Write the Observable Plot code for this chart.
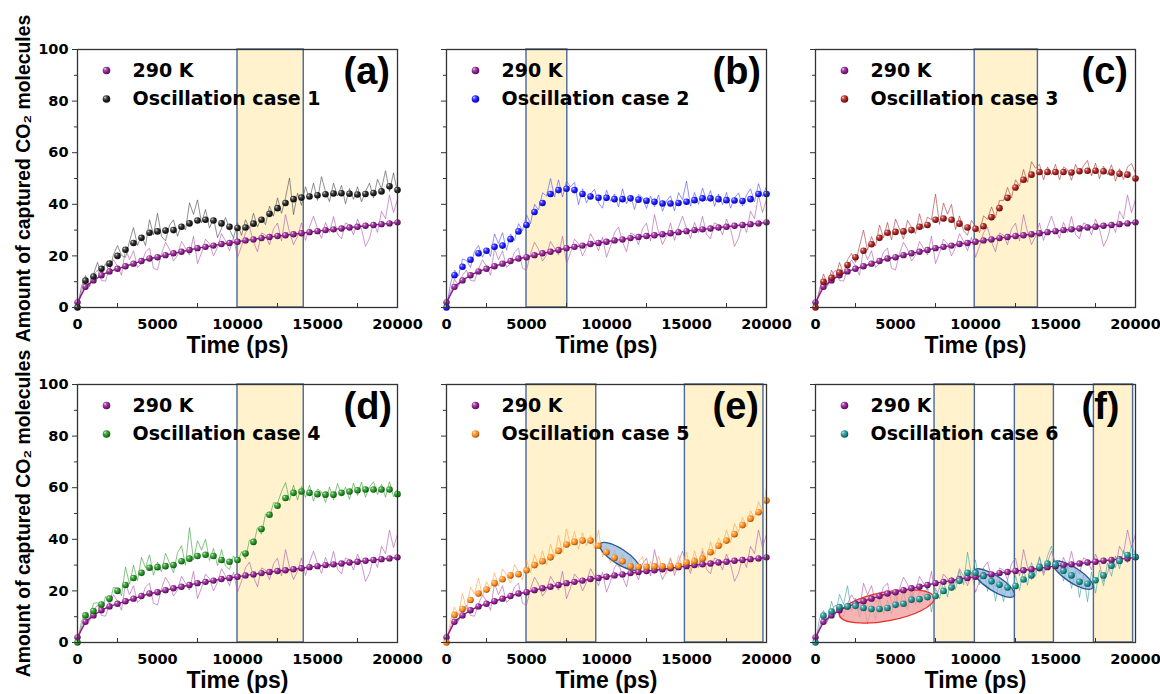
<!DOCTYPE html>
<html><head><meta charset="utf-8">
<script src="https://cdn.jsdelivr.net/npm/d3@7"></script>
<script src="https://cdn.jsdelivr.net/npm/@observablehq/plot@0.6"></script>
<style>
html,body{margin:0;padding:0;background:#fff;}
#wrap{position:relative;width:1160px;height:694px;overflow:hidden;background:#fff;}
#wrap svg{position:absolute;}
</style>
</head><body><div id="wrap"></div>
<script>
// ---------------- data ----------------
const times = [0,500,1000,1500,2000,2500,3000,3500,4000,4500,5000,5500,6000,6500,7000,7500,8000,8500,9000,9500,10000,10500,11000,11500,12000,12500,13000,13500,14000,14500,15000,15500,16000,16500,17000,17500,18000,18500,19000,19500,20000];
const rawTimes = [0,250,500,750,1000,1250,1500,1750,2000,2250,2500,2750,3000,3250,3500,3750,4000,4250,4500,4750,5000,5250,5500,5750,6000,6250,6500,6750,7000,7250,7500,7750,8000,8250,8500,8750,9000,9250,9500,9750,10000,10250,10500,10750,11000,11250,11500,11750,12000,12250,12500,12750,13000,13250,13500,13750,14000,14250,14500,14750,15000,15250,15500,15750,16000,16250,16500,16750,17000,17250,17500,17750,18000,18250,18500,18750,19000,19250,19500,19750,20000];

const smooth290 = [2,8,10.5,12.5,14,15,16,17,18,19,19.5,20.3,21,21.6,22.3,23,23.5,24,24.6,25,25.5,26,26.4,26.9,27.3,27.7,28,28.4,28.8,29.2,29.6,30,30.3,30.6,31,31.3,31.7,32,32.3,32.6,33];
const smoothCase1 = [0,10.4,12,15,17,20,22.4,25,27,29,29.5,29.8,30,31.3,32.6,33.7,34,33.7,32.6,31.3,30.8,31,32.5,34,36.3,38.5,40.5,42,42.6,43,43.5,43.9,44.2,44.3,44.1,43.8,44,44.4,45,47,45.5];
const smoothCase2 = [0,12.5,15.8,18.5,21,22,23.5,24,26.5,29.5,32,37,40.5,44,45.5,46,45.5,44,43,42.5,42.5,42,42,42.3,41.8,41.4,41,40.3,40.3,40.5,41,41.6,42.3,42.3,42,41.6,41.5,41.3,42,44,44];
const smoothCase3 = [0,10,11.5,13.5,16.5,19.5,22,24.5,27,29,29.3,29.5,30,31.3,32,34,34.5,34,32.5,31,30.5,31.5,35,38.5,42.5,46.5,49.5,51.5,52.5,52.5,52.5,52.5,52.3,52.8,53,53,52.8,52.3,51.8,51.5,50];
const smoothCase4 = [0,10.5,12.2,14.7,17,20,22.3,25,27,29,29.2,29.6,30,31.5,32.5,33.5,34,33.5,32,31.3,32,34.5,39,44,49.5,53,56,58,58.5,58,57.5,57.3,57.3,58,58.5,59,59.3,59.3,59.3,59.3,57.5];
const smoothCase5 = [0,10.7,13,16.5,19,20.5,23,24.5,26,26.5,28,30,31.5,33,35.5,38,39,39.5,39.5,37.5,35,32.8,31.5,29.5,29.3,29.3,29.5,29.5,29.5,29.7,31,31.5,32.5,35,37.5,39.5,42,45.5,48,50.5,55];
const smoothCase6 = [0,10.4,12,13.7,14,14.2,13.4,13,13,13.4,14.6,15,16.6,16.8,17.6,18,20,21.3,23.9,27,27,25.8,23.7,22.4,21.3,21.9,24.4,26,29.3,30.6,30.2,27.8,26,23.5,22.8,24.1,26,29.7,31.6,33.9,33.2];

const raw290 = [0,6,11,8.2,12.5,14.5,10.5,10.2,15,18.5, 16,12.5,23,18.5,22,15.5,17,21.5,23,15.2, 14.5,20.9,25.3,22.6,18,20.3,25.6,23,20.3,27.6, 17,21.2,26.5,24.7,20,23.3,28.6,25.8,22,27.2, 19.5,23.7,29,31.2,25.4,21.6,28.9,28.1,24.3,30.5, 32.7,25.8,36,29.2,24.4,27.6,32.8,26,31.2,35.4, 30.6,26.8,33,29.1,35.3,28.4,26.6,32.8,32,28.1, 34.3,30.5,23.7,26.8,33,29.1,37.3,34.4,43.6,36.8, 42];
const rawCase1 = [0,8.2,12.4,8.2,13,17.5,13,17,14,20.5, 24,20.2,19.4,25.7,31,24,28,24,34,28.2, 36.5,27.6,25.8,31.9,34,27.6,32.3,30,40.6,36.1, 41.7,32.8,38,30.8,34.7,27.1,30.6,34.9,30.3,27, 32.8,27.9,34,30.7,36.5,31.2,35,32.1,39.3,35.4, 42.5,36.5,42.5,50.2,36,44.3,39.6,46.8,42,48.2, 41.5,50.7,44.9,41,48.2,43.2,47.3,40.2,46.1,41.9, 46.8,40.9,45,48.2,42.4,49.7,46,53,45,52.2, 44.5];
const rawCase2 = [0,9.2,14.5,12.2,18.8,18.2,15.5,21.8,24,19.5, 23,19.8,28.5,24.8,29,22.2,28.5,26,32.5,29.8, 36,32.5,40,37.8,44.5,43.2,50,42.8,49.5,42.8, 49,46.8,48.5,39.8,46,40.5,44,45.8,40.5,38.5, 45.5,41.2,44,39,46,40.2,43.3,38,43.8,42.6, 38.4,43.2,39,43.6,37.3,41.3,43.3,37.4,44.5,41.8, 49,39.3,44.6,40,46.3,41.3,45.3,39.2,44,39.8, 44.6,38.5,42.5,44.4,39.3,43.6,46,41,48,43, 47];
const rawCase3 = [0,7,13,8.8,14.5,11.5,17.5,13,18.5,21, 17.5,23.8,30,22.2,27.5,23.8,32,27,33,26.2, 34.3,30.4,26.5,33.8,31,28.6,36.3,30.6,35,34, 44,32.2,40.5,36.2,40,30.2,35.5,29.8,28,33.8, 31.5,29,35.5,34.2,39,34.8,41.5,41.5,46.5,42.5, 49.5,47,53.5,48.5,56.5,54,55.5,49.5,54.5,51.5, 55.5,49.5,54.5,53.4,49.3,55.5,51.8,54.9,57,51, 56,49.9,54.8,51.5,55.3,49,53.8,49.6,54.5,55.8, 52];
const rawCase4 = [0,8.2,11.5,9.4,15.2,15.4,11.7,17.8,15,21.5, 21,18.2,29.3,22.6,30,24,33,29,34,26.1, 31.2,27.4,34.6,30.8,27,34.8,37.5,30,44.5,32, 39.5,35.8,40,31.8,36.5,29.8,36,29.6,28.3,33.6, 31,35.2,32.5,39.8,38,44.5,42,49.8,48.5,54.2, 54,58.5,62,55,61,55.2,60.5,56.2,61,54.8, 59.5,58.4,54.3,60.3,55.3,61.6,57,60.2,55.5,61.8, 57,62.2,56.3,60.3,62.3,57.3,61.3,56.3,62.3,56.4, 59.5];
const rawCase5 = [0,8.4,13.7,10.8,19,12.8,21.5,18.8,25,17.8, 23.5,20.8,27,21.8,28.5,26.2,23,30.2,27.5,24.2, 32,27,34,29.8,35.5,30.2,38,33.2,41.5,34.8, 44,37.5,43,36.2,42.5,37.5,41.5,36.5,43.5,33.2, 37,30.9,35.8,29.2,34.5,28.5,33.5,26.4,31.3,33.3, 26.3,31.4,27.5,33.5,28.5,26.5,32.5,27.6,33.7,29.4, 35,28.2,35.5,30,36.5,31.8,39,34.2,40.5,37.5, 43.5,38.8,46,42.8,48.5,44.8,51,48.2,54.5,50.8, 60];
const rawCase6 = [0,9.2,12.4,8.2,16,10.8,18.7,14.8,22,12.1, 17.2,9.8,15.4,7.2,14,9,17,11.2,16.4,11, 18.6,13.8,20,12.8,20.6,14.7,19.8,18.2,21.6,11.8, 21,17,24,17.6,25.3,20.6,27.9,22.4,35,26, 32,22.4,28.8,19.8,25.7,16,24.4,15.8,24.3,17.6, 25.9,20.2,28.4,22.2,31,25.6,33.3,27,33.6,37.4, 29.2,32,23.8,29.9,21,27.8,17.5,26.2,15.8,27.4, 19.1,28,22,30.8,25.7,33.6,28.6,35.8,30.9,37.6, 34.2];

const refName = "290 K";
const caseNames = ["Oscillation case 1","Oscillation case 2","Oscillation case 3","Oscillation case 4","Oscillation case 5","Oscillation case 6"];
const panelLabels = ["(a)","(b)","(c)","(d)","(e)","(f)"];
const xTitle = "Time (ps)";
const yTitle = "Amount of captured CO\u2082 molecules";
const xTicks = [0,5000,10000,15000,20000];
const xMinorTicks = [2500,7500,12500,17500];
const yTicks = [0,20,40,60,80,100];
const yMinorTicks = [10,30,50,70,90];

// shaded (oscillation) windows per panel: [start, end] in ps
const shadesA = [[10000,14140]];
const shadesB = [[5000,7550]];
const shadesC = [[9950,13900]];
const shadesD = [[10000,14140]];
const shadesE = [[5000,9360],[14900,19810]];
const shadesF = [[7440,9960],[12460,14900],[17400,19850]];

// highlighted ellipses: major-axis end points in data units
const ellipsesE = [{x1:9630,y1:38,x2:12040,y2:28.4,kind:"blue"}];
const ellipsesF = [{x1:1520,y1:10.4,x2:7440,y2:17.2,kind:"red"},{x1:9960,y1:27.8,x2:12440,y2:17.9,kind:"blue"},{x1:14900,y1:30.9,x2:17350,y2:21,kind:"blue"}];

// ---------------- styles ----------------
const refColor = "#8e1a8e";
const caseColors = ["#1c1c1c","#1414ff","#a81818","#1d8f1d","#ff8a1a","#16908e"];
const rawRefColor = "#b05cb0";
const rawCaseColors = ["#5a5a5a","#5c5cff","#b04848","#4aa64a","#ffa850","#4aa8a6"];
const ellipseStyle = {
  blue: {fill:"#8fb5de", fillOpacity:0.7, stroke:"#2d5590", ry:7.5},
  red: {fill:"#f29a9a", fillOpacity:0.75, stroke:"#e83028", ry:14.5}
};
const FONT_A = '"Liberation Sans", Arial, sans-serif';
const FONT_D = '"DejaVu Sans", sans-serif';

// sphere gradients
const ns = "http://www.w3.org/2000/svg";
const wrap = document.getElementById("wrap");
const defsSvg = document.createElementNS(ns, "svg");
defsSvg.setAttribute("width", 0); defsSvg.setAttribute("height", 0);
defsSvg.style.position = "absolute";
const defs = document.createElementNS(ns, "defs");
defsSvg.appendChild(defs);
wrap.appendChild(defsSvg);
function gradientFor(id, base) {
  const g = document.createElementNS(ns, "radialGradient");
  g.setAttribute("id", id);
  g.setAttribute("cx", "0.4"); g.setAttribute("cy", "0.4"); g.setAttribute("r", "0.62");
  g.setAttribute("fx", "0.3"); g.setAttribute("fy", "0.28");
  const stops = [
    [0, d3.interpolateRgb(base, "#ffffff")(0.9)],
    [0.3, d3.interpolateRgb(base, "#ffffff")(0.25)],
    [0.65, base],
    [1, d3.interpolateRgb(base, "#000000")(0.45)]
  ];
  for (const [o, c] of stops) {
    const s = document.createElementNS(ns, "stop");
    s.setAttribute("offset", o); s.setAttribute("stop-color", c);
    g.appendChild(s);
  }
  defs.appendChild(g);
  return `url(#${id})`;
}
const refFill = gradientFor("ball-ref", refColor);
const caseFills = caseColors.map((c, i) => gradientFor("ball-case" + i, c));

// tables built from arrays
const toRows = (ts, vs) => ts.map((t, i) => ({t, v: vs[i]}));
const smoothCases = [smoothCase1, smoothCase2, smoothCase3, smoothCase4, smoothCase5, smoothCase6];
const rawCases = [rawCase1, rawCase2, rawCase3, rawCase4, rawCase5, rawCase6];
const shadeSets = [shadesA, shadesB, shadesC, shadesD, shadesE, shadesF];
const ellipseSets = [[], [], [], [], ellipsesE, ellipsesF];
const refRows = toRows(times, smooth290);
const refRaw = toRows(rawTimes, raw290);

function ellipseLayer(list) {
  return (index, scales) => {
    const g = document.createElementNS(ns, "g");
    for (const e of list) {
      const st = ellipseStyle[e.kind];
      const xa = scales.x(e.x1), ya = scales.y(e.y1), xb = scales.x(e.x2), yb = scales.y(e.y2);
      const cx = (xa + xb) / 2, cy = (ya + yb) / 2;
      const rx = Math.hypot(xb - xa, yb - ya) / 2;
      const ang = Math.atan2(yb - ya, xb - xa) * 180 / Math.PI;
      const el = document.createElementNS(ns, "ellipse");
      el.setAttribute("cx", cx); el.setAttribute("cy", cy);
      el.setAttribute("rx", rx); el.setAttribute("ry", st.ry);
      el.setAttribute("transform", `rotate(${ang} ${cx} ${cy})`);
      el.setAttribute("fill", st.fill); el.setAttribute("fill-opacity", st.fillOpacity);
      el.setAttribute("stroke", st.stroke); el.setAttribute("stroke-width", 1.3);
      g.appendChild(el);
    }
    return g;
  };
}

// ---------------- layout ----------------
const frameLefts = [77, 445.5, 815];
const frameTops = [49, 384];
const M = {l: 77, r: 30, t: 10, b: 52};
const FW = 320, FH = 258;

for (let i = 0; i < 6; i++) {
  const col = i % 3, row = Math.floor(i / 3);
  const shadeRows = shadeSets[i].map(([a, b]) => ({a, b}));
  const marks = [
    Plot.rect(shadeRows, {x1: "a", x2: "b", y1: 0, y2: 100, fill: "#fff2cc", stroke: "#4a6796", strokeWidth: 1.4}),
    Plot.line(refRaw, {x: "t", y: "v", stroke: rawRefColor, strokeWidth: 0.9, strokeOpacity: 0.7}),
    Plot.line(toRows(rawTimes, rawCases[i]), {x: "t", y: "v", stroke: rawCaseColors[i], strokeWidth: 0.9, strokeOpacity: 0.75}),
    ellipseLayer(ellipseSets[i]),
    Plot.line(refRows, {x: "t", y: "v", stroke: refColor, strokeWidth: 1.4}),
    Plot.dot(refRows, {x: "t", y: "v", r: 3.2, fill: refFill}),
    Plot.dot(toRows(times, smoothCases[i]), {x: "t", y: "v", r: 3.3, fill: caseFills[i]}),
    Plot.frame({stroke: "#333", strokeWidth: 1.3}),
    Plot.axisY({ticks: yMinorTicks, tickSize: 3, fill: "none", label: null, stroke: "#333"}),
    Plot.axisX({ticks: xMinorTicks, tickSize: -4, fill: "none", label: null, stroke: "#333"}),
    Plot.axisX({ticks: xTicks, tickSize: 0, tickPadding: 11, tickFormat: d => String(d), fontSize: 14.5, fontWeight: "bold", fontFamily: FONT_D, label: null}),
    col === 0
      ? Plot.axisY({ticks: yTicks, tickSize: 5, tickPadding: 4, tickFormat: d => String(d), fontSize: 14.5, fontWeight: "bold", fontFamily: FONT_D, label: null, stroke: "#333"})
      : Plot.axisY({ticks: yTicks, tickSize: 5, fill: "none", label: null, stroke: "#333"}),
    Plot.text([xTitle], {frameAnchor: "bottom", dy: 38, lineAnchor: "middle", textAnchor: "middle", fontSize: 23, fontWeight: "bold", fontFamily: FONT_A, fill: "#000"}),
    col === 0 ? Plot.text([yTitle], {frameAnchor: "left", dx: -54, rotate: -90, lineAnchor: "middle", textAnchor: "middle", fontSize: 19.4, fontWeight: "bold", fontFamily: FONT_A, fill: "#000"}) : null,
    Plot.dot([refName], {frameAnchor: "top-left", dx: 29, dy: 21, r: 3.8, fill: refFill}),
    Plot.dot([caseNames[i]], {frameAnchor: "top-left", dx: 29, dy: 49.5, r: 3.8, fill: caseFills[i]}),
    Plot.text([refName], {frameAnchor: "top-left", dx: 55, dy: 21, lineAnchor: "middle", textAnchor: "start", fontSize: 19, fontWeight: "bold", fontFamily: FONT_D, fill: "#000"}),
    Plot.text([caseNames[i]], {frameAnchor: "top-left", dx: 55, dy: 49.5, lineAnchor: "middle", textAnchor: "start", fontSize: 19, fontWeight: "bold", fontFamily: FONT_D, fill: "#000"}),
    Plot.text([panelLabels[i]], {frameAnchor: "top-right", dx: -54, dy: 22.5, lineAnchor: "middle", textAnchor: "start", fontSize: 38, fontWeight: "bold", fontFamily: FONT_A, fill: "#000"})
  ];
  const svg = Plot.plot({
    width: M.l + FW + M.r, height: M.t + FH + M.b,
    marginLeft: M.l, marginRight: M.r, marginTop: M.t, marginBottom: M.b,
    x: {domain: [0, 20000], label: null},
    y: {domain: [0, 100], label: null},
    style: {background: "transparent", overflow: "visible", color: "#000", fontFamily: FONT_A, maxWidth: "none"},
    marks
  });
  svg.style.position = "absolute";
  svg.style.left = (frameLefts[col] - M.l) + "px";
  svg.style.top = (frameTops[row] - M.t) + "px";
  wrap.appendChild(svg);
}
</script></body></html>
